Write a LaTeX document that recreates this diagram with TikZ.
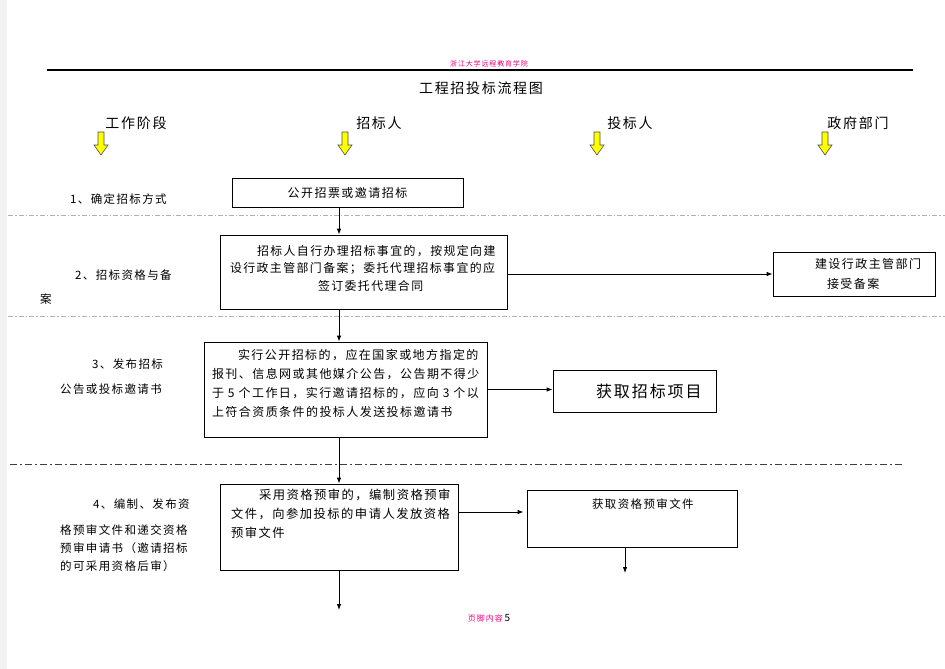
\documentclass[tikz,border=0pt]{standalone}
\usepackage{fontspec}
\setmainfont[LetterSpace=12]{Noto Sans CJK SC}
\usetikzlibrary{arrows.meta, calc}
\definecolor{hdrpink}{RGB}{240,0,120}
\definecolor{flowyellow}{RGB}{255,255,0}

\tikzset{
  box/.style={draw, line width=0.8pt, inner xsep=0pt, inner ysep=0pt, align=left},
  arr/.style={-{Latex[length=6pt,width=4.5pt]}, line width=0.8pt},
  rowsep/.style={gray!60, line width=0.8pt, dash pattern=on 5pt off 2pt on 1.5pt off 2pt},
  lbl/.style={inner sep=0pt, anchor=north west, align=left, font=\fontsize{11.5}{18}\selectfont},
  head/.style={inner sep=0pt, font=\fontsize{14}{16}\selectfont},
}

\begin{document}
\begin{tikzpicture}[x=1pt, y=-1pt]
    \useasboundingbox (0,0) rectangle (945,669);
    \fill[black!5] (0,0) rectangle (7,669);

    % page header
    \node[inner sep=0pt, text=hdrpink, font=\fontsize{7}{8}\selectfont] (hdr) at (489,64) {浙江大学远程教育学院};
    \draw[line width=1.2pt] (47,70) -- (913,70);
    \node[head] (title) at (481,88) {工程招投标流程图};

    % columns
    \node[head] (colstage) at (136,123) {工作阶段};
    \node[head] (colowner) at (379,123) {招标人};
    \node[head] (colbidder) at (630,123) {投标人};
    \node[head] (colgov) at (858,123) {政府部门};
    \foreach \ax in {101,345,597,825} {
        \draw[fill=flowyellow, draw=black!70, line width=0.6pt]
            (\ax-3,132) -- (\ax+3,132) -- (\ax+3,145) -- (\ax+7,145)
            -- (\ax,155) -- (\ax-7,145) -- (\ax-3,145) -- cycle;
    }

    % stage separators
    \draw[rowsep] (8,215) -- (945,215);
    \draw[rowsep] (8,316) -- (945,316);
    \draw[rowsep, black!75, dash pattern=on 7pt off 3pt on 2pt off 3pt] (10,464) -- (903,464);

    % stage labels
    \node[lbl] (st1) at (70,194) {1、确定招标方式};
    \node[lbl] (st2) at (40,270) {\hspace*{35pt}2、招标资格与备\\[6pt]案};
    \node[lbl] (st3) at (60,359) {\hspace*{32pt}3、发布招标\\[7pt]公告或投标邀请书};
    \node[lbl] (st4) at (60,499) {\hspace*{33pt}4、编制、发布资\\[8pt]格预审文件和递交资格\\预审申请书（邀请招标\\的可采用资格后审）};

    % boxes
    \node[box, align=center, text width=231pt, minimum height=29pt, font=\fontsize{12}{18}\selectfont] (mode) at (347.5,192.5) {公开招票或邀请招标};
    \node[box, text width=287pt, minimum height=74pt, font=\fontsize{11.9}{17.5}\selectfont] (record) at (363.5,272)
        {\hspace*{37pt}招标人自行办理招标事宜的，按规定向建\\\hspace*{10pt}设行政主管部门备案；委托代理招标事宜的应\\\hspace*{98pt}签订委托代理合同\rule[-9pt]{0pt}{0pt}};
    \node[box, text width=162pt, minimum height=44pt, font=\fontsize{12}{20}\selectfont] (govrec) at (854,274)
        {\hspace*{42pt}建设行政主管部门\\\hspace*{54pt}接受备案};
    \node[box, text width=283pt, minimum height=95pt, font=\fontsize{12}{19}\selectfont] (notice) at (345.5,389.5)
        {\hspace*{34pt}实行公开招标的，应在国家或地方指定的\\\hspace*{8pt}报刊、信息网或其他媒介公告，公告期不得少\\\hspace*{8pt}于~5~个工作日，实行邀请招标的，应向~3~个以\\\hspace*{8pt}上符合资质条件的投标人发送投标邀请书\rule[-14pt]{0pt}{0pt}};
    \node[box, text width=163pt, minimum height=42pt, font=\fontsize{16}{18}\selectfont] (project) at (634.5,391)
        {\hspace*{43pt}获取招标项目};
    \node[box, text width=238pt, minimum height=86pt, font=\fontsize{12.3}{19}\selectfont] (prequal) at (339,527)
        {\hspace*{39pt}采用资格预审的，编制资格预审\\\hspace*{11pt}文件，向参加投标的申请人发放资格\\\hspace*{11pt}预审文件\rule[-28pt]{0pt}{0pt}};
    \node[box, text width=210pt, minimum height=57pt, font=\fontsize{11.5}{18}\selectfont] (getdoc) at (632,518.5)
        {\hspace*{65pt}获取资格预审文件\rule[-29pt]{0pt}{0pt}};

    % connectors
    \coordinate (spine) at (339,0);
    \coordinate (doclink) at ([yshift=6.5pt]getdoc.west);
    \coordinate (docend) at (625,573);
    \coordinate (flowend) at (339,610);
    \draw[arr] (mode.south -| spine) -- (record.north -| spine);
    \draw[arr] (record.east |- govrec.west) -- (govrec.west);
    \draw[arr] (record.south -| spine) -- (notice.north -| spine);
    \draw[arr] (notice.east) -- (notice.east -| project.west);
    \draw[arr] (notice.south -| spine) -- (prequal.north -| spine);
    \draw[arr, shorten <=1pt, shorten >=3pt] (prequal.east |- doclink) -- (doclink);
    \draw[arr] (docend |- getdoc.south) -- (docend);
    \draw[arr] (spine |- prequal.south) -- (flowend);

    % page footer
    \node[inner sep=0pt] (footer) at (489,618) {{\color{hdrpink}\fontsize{8}{9}\selectfont 页脚内容}\,\fontsize{10}{11}\selectfont 5};
\end{tikzpicture}
\end{document}
